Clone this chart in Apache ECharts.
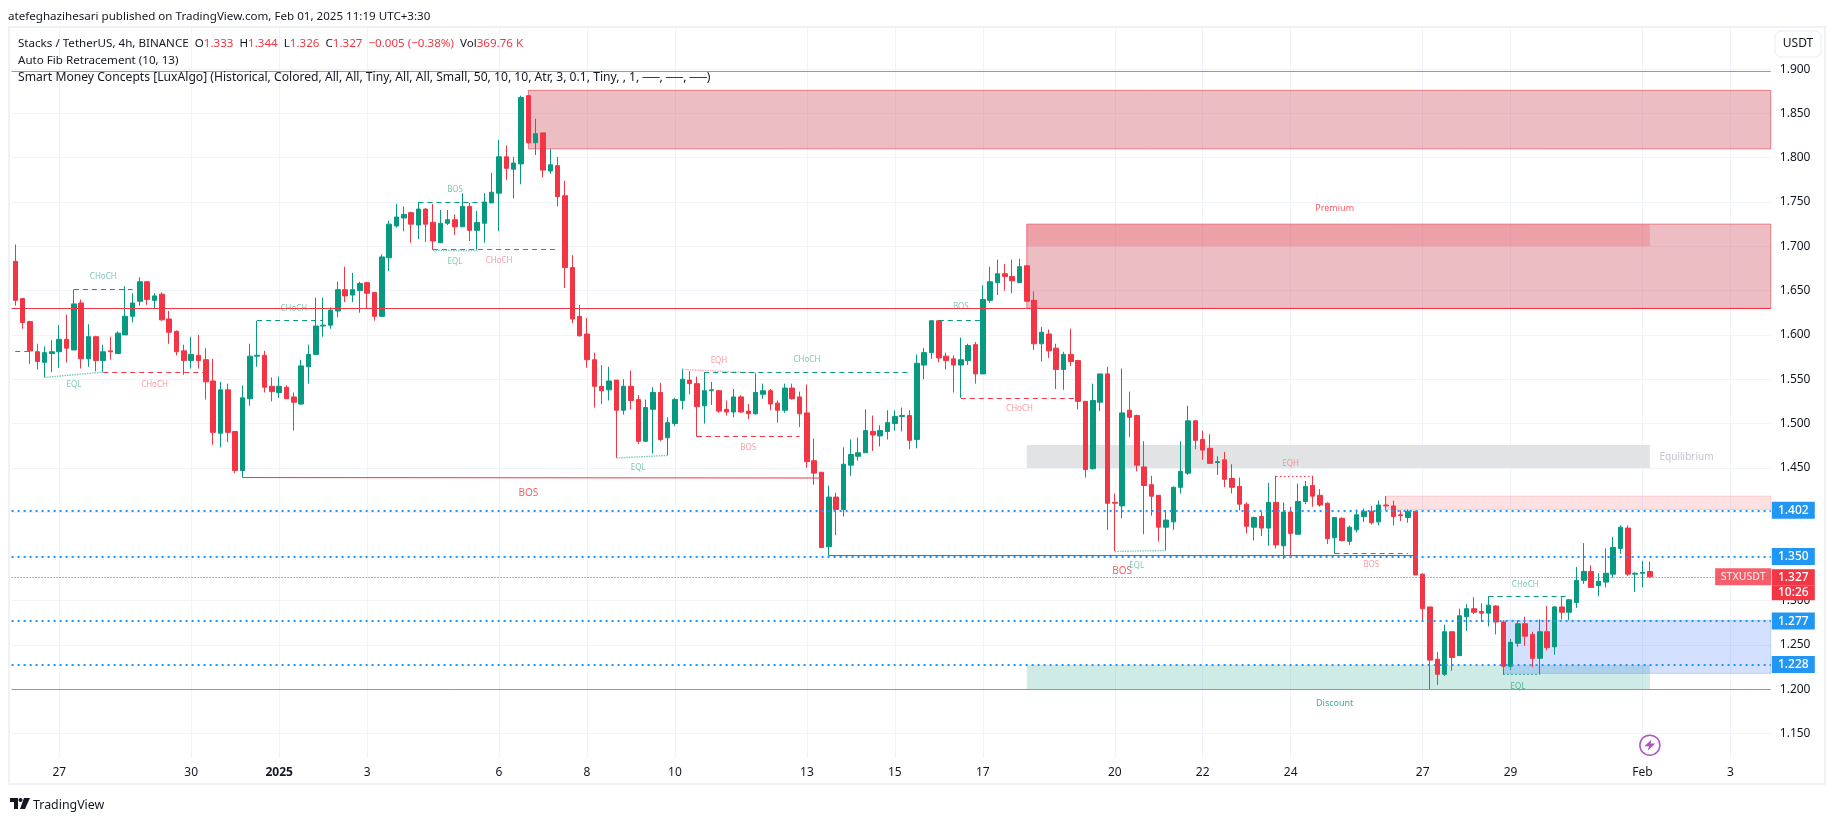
<!DOCTYPE html>
<html><head><meta charset="utf-8">
<style>html,body{margin:0;padding:0;background:#fff}#c{width:1835px;height:821px}</style>
<script src="https://cdn.jsdelivr.net/npm/echarts@6/dist/echarts.min.js"></script>
</head><body><div id="c"></div>
<script>
const opens=[1.683,1.641,1.615,1.581,1.569,1.579,1.581,1.595,1.583,1.636,
1.573,1.598,1.571,1.582,1.579,1.600,1.621,1.638,1.660,1.639,
1.646,1.618,1.604,1.582,1.571,1.577,1.572,1.548,1.489,1.538,
1.491,1.447,1.528,1.576,1.577,1.542,1.535,1.541,1.530,1.522,
1.564,1.578,1.610,1.611,1.627,1.651,1.645,1.650,1.659,1.648,
1.621,1.687,1.723,1.732,1.738,1.724,1.742,1.727,1.704,1.726,
1.730,1.722,1.745,1.718,1.726,1.749,1.760,1.801,1.787,1.793,
1.870,1.817,1.828,1.785,1.791,1.757,1.676,1.621,1.601,1.572,
1.542,1.538,1.549,1.515,1.542,1.527,1.480,1.516,1.535,1.484,
1.500,1.526,1.549,1.545,1.520,1.537,1.537,1.516,1.513,1.530,
1.514,1.511,1.533,1.537,1.523,1.515,1.540,1.530,1.512,1.458,
1.445,1.361,1.417,1.403,1.453,1.463,1.467,1.491,1.486,1.491,
1.500,1.508,1.509,1.482,1.566,1.580,1.616,1.576,1.573,1.566,
1.571,1.589,1.556,1.639,1.659,1.669,1.666,1.659,1.678,1.639,
1.590,1.601,1.585,1.561,1.578,1.571,1.525,1.449,1.524,1.556,
1.411,1.407,1.515,1.509,1.451,1.431,1.419,1.383,1.389,1.428,
1.444,1.503,1.482,1.472,1.456,1.459,1.438,1.429,1.409,1.383,
1.395,1.382,1.411,1.362,1.400,1.375,1.412,1.430,1.419,1.410,
1.371,1.393,1.367,1.380,1.395,1.401,1.389,1.408,1.407,1.397,
1.394,1.401,1.330,1.293,1.234,1.217,1.265,1.238,1.282,1.291,
1.288,1.286,1.294,1.276,1.226,1.252,1.274,1.262,1.235,1.265,
1.248,1.293,1.287,1.298,1.323,1.333,1.317,1.321,1.330,1.359,
1.382,1.330,1.331,1.333];
const closes=[1.639,1.614,1.582,1.570,1.580,1.581,1.595,1.585,1.635,1.573,
1.598,1.571,1.581,1.581,1.602,1.621,1.636,1.660,1.640,1.644,
1.617,1.603,1.581,1.571,1.578,1.571,1.547,1.490,1.538,1.490,
1.447,1.529,1.576,1.577,1.541,1.536,1.542,1.528,1.524,1.565,
1.578,1.610,1.611,1.628,1.651,1.644,1.651,1.658,1.647,1.621,
1.688,1.725,1.733,1.736,1.725,1.742,1.725,1.706,1.726,1.730,
1.722,1.745,1.718,1.727,1.750,1.761,1.801,1.788,1.794,1.868,
1.817,1.827,1.786,1.792,1.756,1.676,1.618,1.599,1.572,1.542,
1.537,1.548,1.515,1.542,1.526,1.480,1.518,1.535,1.482,1.501,
1.527,1.550,1.545,1.519,1.537,1.538,1.514,1.513,1.530,1.513,
1.511,1.535,1.537,1.522,1.515,1.540,1.528,1.511,1.457,1.444,
1.360,1.417,1.403,1.454,1.465,1.467,1.492,1.487,1.492,1.501,
1.508,1.509,1.481,1.568,1.580,1.616,1.574,1.571,1.566,1.572,
1.588,1.556,1.640,1.660,1.669,1.666,1.661,1.677,1.638,1.590,
1.603,1.582,1.561,1.578,1.570,1.525,1.448,1.526,1.556,1.410,
1.410,1.512,1.507,1.453,1.430,1.418,1.383,1.391,1.428,1.446,
1.503,1.481,1.470,1.455,1.457,1.437,1.428,1.409,1.384,1.394,
1.382,1.411,1.363,1.400,1.376,1.412,1.429,1.418,1.408,1.370,
1.394,1.368,1.383,1.397,1.401,1.388,1.408,1.407,1.395,1.396,
1.401,1.329,1.291,1.233,1.217,1.265,1.236,1.283,1.291,1.287,
1.286,1.295,1.276,1.226,1.253,1.274,1.260,1.235,1.265,1.247,
1.293,1.287,1.301,1.323,1.333,1.315,1.322,1.331,1.360,1.383,
1.330,1.331,1.332,1.327];
const highs=[1.702,1.641,1.616,1.590,1.587,1.594,1.611,1.623,1.651,1.640,
1.612,1.599,1.589,1.598,1.604,1.655,1.647,1.665,1.661,1.647,
1.648,1.627,1.605,1.589,1.598,1.600,1.585,1.573,1.547,1.545,
1.491,1.543,1.590,1.616,1.582,1.552,1.553,1.543,1.535,1.572,
1.589,1.642,1.642,1.631,1.660,1.677,1.670,1.660,1.660,1.648,
1.691,1.729,1.748,1.745,1.739,1.750,1.743,1.748,1.741,1.741,
1.736,1.760,1.749,1.740,1.760,1.783,1.820,1.814,1.801,1.870,
1.870,1.844,1.828,1.810,1.801,1.774,1.690,1.634,1.619,1.580,
1.566,1.564,1.549,1.550,1.560,1.532,1.527,1.541,1.546,1.507,
1.529,1.562,1.559,1.553,1.558,1.547,1.538,1.526,1.539,1.532,
1.522,1.557,1.545,1.539,1.526,1.545,1.545,1.536,1.544,1.483,
1.445,1.430,1.422,1.473,1.482,1.484,1.516,1.509,1.498,1.515,
1.515,1.518,1.515,1.578,1.585,1.616,1.617,1.580,1.577,1.597,
1.590,1.592,1.656,1.677,1.685,1.680,1.685,1.686,1.678,1.649,
1.609,1.606,1.590,1.581,1.607,1.572,1.525,1.545,1.556,1.564,
1.421,1.562,1.536,1.510,1.480,1.441,1.419,1.402,1.429,1.480,
1.520,1.504,1.492,1.488,1.463,1.468,1.454,1.439,1.411,1.395,
1.401,1.433,1.441,1.411,1.406,1.432,1.435,1.441,1.426,1.411,
1.394,1.394,1.385,1.403,1.404,1.407,1.413,1.418,1.413,1.402,
1.403,1.401,1.331,1.293,1.242,1.273,1.265,1.291,1.296,1.304,
1.297,1.305,1.295,1.278,1.257,1.278,1.282,1.265,1.279,1.294,
1.294,1.304,1.302,1.338,1.365,1.340,1.331,1.359,1.372,1.385,
1.385,1.332,1.345,1.344];
const lows=[1.633,1.607,1.567,1.561,1.552,1.558,1.563,1.569,1.583,1.562,
1.564,1.559,1.558,1.572,1.579,1.600,1.614,1.633,1.634,1.629,
1.616,1.590,1.577,1.555,1.562,1.562,1.527,1.476,1.473,1.479,
1.444,1.439,1.520,1.564,1.535,1.525,1.529,1.528,1.492,1.521,
1.545,1.578,1.598,1.607,1.620,1.637,1.637,1.625,1.630,1.616,
1.620,1.672,1.721,1.717,1.704,1.708,1.705,1.696,1.704,1.724,
1.713,1.722,1.706,1.696,1.704,1.749,1.717,1.775,1.754,1.770,
1.816,1.803,1.778,1.782,1.745,1.653,1.613,1.598,1.563,1.518,
1.522,1.526,1.461,1.510,1.516,1.477,1.479,1.466,1.480,1.464,
1.497,1.516,1.533,1.485,1.500,1.521,1.512,1.509,1.507,1.512,
1.505,1.510,1.528,1.515,1.501,1.512,1.527,1.496,1.450,1.431,
1.360,1.351,1.374,1.395,1.441,1.458,1.467,1.469,1.474,1.482,
1.492,1.491,1.471,1.472,1.550,1.573,1.569,1.561,1.535,1.529,
1.566,1.545,1.556,1.636,1.645,1.650,1.647,1.659,1.638,1.583,
1.570,1.574,1.539,1.538,1.565,1.516,1.439,1.448,1.514,1.380,
1.356,1.393,1.485,1.446,1.375,1.396,1.367,1.357,1.380,1.421,
1.442,1.471,1.459,1.455,1.442,1.428,1.421,1.402,1.376,1.368,
1.373,1.362,1.359,1.347,1.351,1.375,1.409,1.406,1.406,1.364,
1.353,1.367,1.363,1.377,1.389,1.386,1.385,1.402,1.385,1.390,
1.388,1.329,1.276,1.200,1.205,1.215,1.221,1.238,1.266,1.285,
1.276,1.271,1.262,1.217,1.222,1.248,1.249,1.225,1.217,1.244,
1.239,1.279,1.278,1.292,1.319,1.315,1.305,1.315,1.326,1.353,
1.328,1.310,1.315,1.326];
const barCount=240;
const dateTickBars=[6,24,36,48,66,78,90,108,120,132,150,162,174,192,204,222,234];
const dateTickLabels=['27','30','2025','3','6','8','10','13','15','17','20','22','24','27','29','Feb','3'];
const priceTicks=[1.15,1.20,1.25,1.30,1.35,1.40,1.45,1.50,1.55,1.60,1.65,1.70,1.75,1.80,1.85,1.90];
const blueLevels=[1.402,1.350,1.277,1.228];
const lastPrice=1.327, lastCountdown='10:26', symbolName='STXUSDT';
const fibTop=1.897, fibMid=1.630, fibBottom=1.200;
// [startBar, endBar or null for open-ended, top, bottom, kind]
const zones=[
 [70,null,1.876,1.810,'supply'],
 [138,null,1.725,1.630,'supply'],
 [138,223,1.725,1.700,'premium'],
 [138,223,1.4757,1.4497,'equilibrium'],
 [138,223,1.2275,1.200,'discount'],
 [187,null,1.418,1.403,'paleSupply'],
 [203,null,1.278,1.218,'demand']];
// [startBar, startPrice, endBar, endPrice, kind]
const structureLines=[
 [8,1.651,16,1.651,'gDash'],[0,1.582,2,1.582,'rDash'],[4,1.552,12,1.558,'gDot'],[12,1.558,26,1.558,'rDash'],
 [33,1.616,42,1.616,'gDash'],[55,1.7496,65,1.7496,'gDash'],[57,1.6966,74,1.6966,'rDash'],[57,1.696,63,1.696,'gDot'],
 [31,1.439,110,1.4385,'rSolid'],[82,1.461,89,1.464,'gDot'],[91,1.561,101,1.557,'rDot'],[94,1.558,122,1.558,'gDash'],
 [93,1.4857,107,1.4857,'rDash'],[126,1.617,132,1.617,'gDash'],[129,1.529,145,1.529,'rDash'],[111,1.351,191,1.351,'rSolid'],
 [150,1.3556,157,1.3567,'gDot'],[172,1.440,177,1.440,'rDotStrong'],[180,1.3533,190,1.3533,'rDash'],[201,1.305,212,1.305,'gDash'],[203,1.2172,208,1.2172,'gDotStrong']];
// [bar, price, text, kind]
const structureLabels=[
 [12,1.6654,'CHoCH','g'],[8,1.544,'EQL','g'],[19,1.544,'CHoCH','r'],[38,1.629,'CHoCH','g'],[60,1.764,'BOS','g'],
 [66,1.684,'CHoCH','r'],[60,1.683,'EQL','g'],[70,1.4219,'BOS','R'],[85,1.450,'EQL','g'],[96,1.571,'EQH','r'],
 [108,1.572,'CHoCH','g'],[100,1.473,'BOS','r'],[129,1.6315,'BOS','g'],[137,1.5165,'CHoCH','r'],[151,1.333,'BOS','R'],
 [153,1.340,'EQL','g'],[174,1.4549,'EQH','r'],[185,1.3409,'BOS','r'],[206,1.3184,'CHoCH','g'],[205,1.203,'EQL','G'],
 [180,1.743,'Premium','P'],[180,1.1837,'Discount','D'],[228,1.4625,'Equilibrium','E']];
const eventMarks=[[223,1.137]];

const UP='#089981',DOWN='#f23645',INK='#131722',FONT='"Noto Sans"';
const candles=opens.map((o,i)=>[o,closes[i],lows[i],highs[i]]);
const categories=Array.from({length:barCount},(_,i)=>'bar'+i);
const zoneStyle={
 supply:{color:'rgba(201,72,85,0.36)',borderColor:'rgba(230,90,105,0.75)',borderWidth:1},
 premium:{color:'rgba(240,70,85,0.24)',borderWidth:0},
 equilibrium:{color:'#e2e3e5',borderWidth:0},
 discount:{color:'rgba(8,153,129,0.2)',borderWidth:0},
 paleSupply:{color:'rgba(242,54,69,0.15)',borderColor:'rgba(242,54,69,0.2)',borderWidth:1},
 demand:{color:'rgba(41,98,255,0.2)',borderColor:'rgba(41,98,255,0.2)',borderWidth:1}};
const lineStyle={
 gDash:{color:UP,type:[5,4],width:1},rDash:{color:DOWN,type:[5,4],width:1},
 gDot:{color:'#7fcbbb',type:[1.5,1],width:1.4},rDot:{color:'#f9a5ab',type:[1.5,1],width:1.4},
 rDotStrong:{color:DOWN,type:[1.5,2.5],width:1},gDotStrong:{color:UP,type:[1.5,2.5],width:1},
 rSolid:{color:DOWN,type:'solid',width:1}};
const labelStyle={
 g:{color:'#5cb8a5',fontSize:8},G:{color:'#2ea78f',fontSize:8},r:{color:'#f8838d',fontSize:8},R:{color:DOWN,fontSize:10},
 P:{color:DOWN,fontSize:9},D:{color:UP,fontSize:9},E:{color:'#b2b5be',fontSize:10}};
const tagBox=(bg,h)=>({backgroundColor:bg,color:'#fff',fontFamily:FONT,fontSize:12,fontWeight:500,width:43,height:h,lineHeight:h,align:'center'});
const tagLabel=(v,bg)=>({show:true,position:'end',distance:1,align:'left',formatter:'{a|'+v+'}',rich:{a:tagBox(bg,17)}});

const chart=echarts.init(document.getElementById('c'),null,{renderer:'canvas'});
chart.setOption({
 animation:false,backgroundColor:'#fff',
 textStyle:{fontFamily:FONT},
 title:[
  {text:'atefeghazihesari published on TradingView.com, Feb 01, 2025 11:19 UTC+3:30',left:3,top:6,textStyle:{fontFamily:FONT,fontSize:11.6,fontWeight:400,color:INK}},
  {text:'Stacks / TetherUS, 4h, BINANCE  O{r|1.333}  H{r|1.344}  L{r|1.326}  C{r|1.327}  {r|−0.005 (−0.38%)}  Vol{r|369.76 K}',left:13,top:33,textStyle:{fontFamily:FONT,fontSize:11.6,fontWeight:400,color:INK,rich:{r:{color:DOWN,fontFamily:FONT,fontSize:11.6}}}},
  {text:'Auto Fib Retracement (10, 13)',left:13,top:50,textStyle:{fontFamily:FONT,fontSize:11.6,fontWeight:400,color:INK}},
  {text:'Smart Money Concepts [LuxAlgo] (Historical, Colored, All, All, Tiny, All, All, Small, 50, 10, 10, Atr, 3, 0.1, Tiny, , 1, ──, ──, ──)',left:13,top:67,textStyle:{fontFamily:FONT,fontSize:12.15,fontWeight:400,color:INK}},
  {text:'TradingView',left:28,top:794,textStyle:{fontFamily:FONT,fontSize:12.4,fontWeight:400,color:INK}}
 ],
 graphic:[
  {type:'rect',shape:{x:9,y:27,width:1816,height:757},style:{fill:'none',stroke:'#f0f1f3',lineWidth:2},silent:true},
  {type:'rect',shape:{x:1775,y:31,width:46,height:26,r:6},style:{fill:'#fff',stroke:'#f0f3fa',lineWidth:1.5},silent:true,z:5},
  {type:'text',x:1798,y:44,style:{text:'USDT',font:'12px "Noto Sans"',fill:INK,textAlign:'center',textVerticalAlign:'middle'},silent:true,z:6},
  {type:'polygon',shape:{points:[[10,798],[18,798],[18,809],[14,809],[14,802],[10,802]]},style:{fill:INK},silent:true},
  {type:'circle',shape:{cx:20.5,cy:800,r:2},style:{fill:INK},silent:true},
  {type:'polygon',shape:{points:[[24,798],[30,798],[25,809],[20,809]]},style:{fill:INK},silent:true}
 ],
 grid:{left:11.6,right:64.2,top:27,bottom:63,containLabel:false},
 xAxis:{type:'category',data:categories,boundaryGap:true,
  axisLine:{show:false},
  axisTick:{show:false,alignWithLabel:true},
  splitLine:{show:true,alignWithLabel:true,lineStyle:{color:'#f0f3fa',width:1},interval:(i)=>dateTickBars.includes(i)},
  axisLabel:{interval:(i)=>dateTickBars.includes(i),margin:9,color:INK,fontFamily:FONT,fontSize:12,hideOverlap:false,
   formatter:(v,i)=>{const k=dateTickBars.indexOf(i);const t=k<0?'':dateTickLabels[k];return t==='2025'?'{b|2025}':t;},
   rich:{b:{fontWeight:700,fontSize:12,color:INK,fontFamily:FONT}}}},
 yAxis:{type:'value',position:'right',min:1.1225,max:1.9475,scale:true,
  axisLine:{show:false},
  axisTick:{show:false,customValues:priceTicks},
  splitLine:{show:true,lineStyle:{color:'#f0f3fa',width:1}},
  axisLabel:{customValues:priceTicks,margin:9,color:INK,fontFamily:FONT,fontSize:12,formatter:v=>v.toFixed(3)}},
 series:[
  {name:'zones',type:'line',data:[],z:1,silent:true,clip:false,
   markArea:{silent:true,data:zones.map(z=>[
     {xAxis:z[0],yAxis:z[2],itemStyle:zoneStyle[z[4]]},
     z[1]===null?{xAxis:barCount-1,yAxis:z[3],x:'96.5%'}:{xAxis:z[1],yAxis:z[3]}])}},
  {name:'levels',type:'line',data:[],z:2,silent:true,clip:false,
   markLine:{silent:true,symbol:'none',precision:3,data:[
     {yAxis:fibTop,lineStyle:{color:'#66bb6a',type:'solid',width:1},label:{show:false}},
     {yAxis:fibMid,lineStyle:{color:DOWN,type:'solid',width:1},label:{show:false}},
     {yAxis:fibBottom,lineStyle:{color:'#8f96ad',type:'solid',width:1},label:{show:false}},
     ...blueLevels.map(v=>({yAxis:v,lineStyle:{color:'#2196f3',type:[2,4],width:2},label:tagLabel(v.toFixed(3),'#2196f3')})),
     {yAxis:lastPrice,lineStyle:{color:DOWN,type:[1,2],width:1},
      label:{show:true,position:'end',distance:1,align:'left',offset:[0,8],
       formatter:'{a|'+lastPrice.toFixed(3)+'}\n{b|'+lastCountdown+'}',
       rich:{a:tagBox(DOWN,16),b:tagBox(DOWN,15)}}}
   ]}},
  {name:'structure',type:'line',data:[],z:2,silent:true,
   markLine:{silent:true,symbol:'none',label:{show:false},data:structureLines.map(s=>[
     {xAxis:s[0],yAxis:s[1],lineStyle:lineStyle[s[4]]},{xAxis:s[2],yAxis:s[3]}])}},
  {name:'STXUSDT',type:'candlestick',z:3,barWidth:5,data:candles,silent:true,
   itemStyle:{color:UP,color0:DOWN,borderColor:UP,borderColor0:DOWN,borderWidth:1}},
  {name:'labels',type:'scatter',z:4,silent:true,symbolSize:0,
   data:structureLabels.map(l=>({value:[l[0],l[1]],label:{show:true,position:'inside',formatter:l[2],fontFamily:FONT,...labelStyle[l[3]]}}))},
  {name:'symbolTag',type:'scatter',z:6,silent:true,symbolSize:0,
   data:[{value:[236,lastPrice],label:{show:true,position:'inside',offset:[-2,0],formatter:symbolName,backgroundColor:DOWN,color:'#fff',fontFamily:FONT,fontSize:10.5,fontWeight:500,width:56,height:17,lineHeight:17,align:'center',verticalAlign:'middle'}}]},
  {name:'eventRing',type:'scatter',z:5,silent:true,symbol:'circle',symbolSize:20,data:eventMarks,itemStyle:{color:'#fff',borderColor:'#9c27b0',borderWidth:1.5}},
  {name:'eventBolt',type:'scatter',z:6,silent:true,symbol:'path://M13 2L4 14h6l-2 8 10-13h-6l1-7z',symbolSize:11,data:eventMarks,itemStyle:{color:'#9c27b0'}}
 ]
});
</script></body></html>
